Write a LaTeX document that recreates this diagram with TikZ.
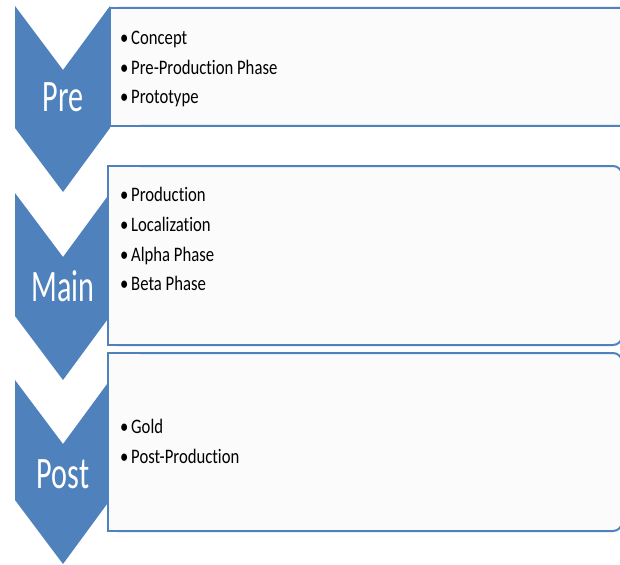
\documentclass[tikz,border=0pt]{standalone}
\usepackage{fontspec}
\setmainfont{Carlito}
\newfontfamily\chevfont[FakeStretch=0.67,Ligatures=NoCommon]{Carlito}
\newfontfamily\itemfont[FakeStretch=0.81,Ligatures=NoCommon]{Carlito}
\definecolor{accblue}{HTML}{4F81BD}
\definecolor{boxfill}{HTML}{FBFBFB}
\tikzset{
  chev/.style={fill=accblue, draw=none},
  phasebox/.style={draw=accblue, line width=2pt, fill=boxfill, rounded corners=9pt},
  boxedge/.style={draw=accblue, line width=2pt, line join=miter},
  chevlabel/.style={anchor=base, inner sep=0pt, text=white, font=\chevfont\fontsize{45}{45}\selectfont},
  itemline/.style={anchor=base west, inner sep=0pt, text=black, font=\itemfont\fontsize{20.6}{20.6}\selectfont}
}
\newcommand{\bul}{\makebox[11pt][l]{•}}
\begin{document}
\begin{tikzpicture}[x=1pt, y=-1pt]
\useasboundingbox (0,0) rectangle (620,564);
\clip (0,0) rectangle (620,564);
\fill[white] (0,0) rectangle (620,564);
% chevrons
\fill[chev] (15,6) -- (63,70) -- (110,6) -- (110,128) -- (63,192) -- (15,128) -- cycle;
\fill[chev] (15,193) -- (63,257) -- (110,193) -- (110,316) -- (63,380) -- (15,316) -- cycle;
\fill[chev] (15,380) -- (63,444) -- (110,380) -- (110,500) -- (63,564) -- (15,500) -- cycle;
% boxes (rounded on the right, square on the left)
\draw[phasebox] (110,8) rectangle (640,126);
\fill[boxfill] (110,8) rectangle (140,126);
\draw[boxedge] (140,8) -- (110,8) -- (110,126) -- (140,126);
\draw[phasebox] (108,166) rectangle (622,345);
\fill[boxfill] (108,166) rectangle (140,345);
\draw[boxedge] (140,166) -- (108,166) -- (108,345) -- (140,345);
\draw[phasebox] (108,353) rectangle (622,531);
\fill[boxfill] (108,353) rectangle (140,531);
\draw[boxedge] (140,353) -- (108,353) -- (108,531) -- (140,531);
% chevron labels
\node[chevlabel] (pre) at (63,111.7) {Pre};
\node[chevlabel] (main) at (63,301.5) {Main};
\node[chevlabel] (post) at (63,488.7) {Post};
% items
\node[itemline] (i1) at (120,44.5) {\bul Concept};
\node[itemline] (i2) at (120,74.5) {\bul Pre-Production Phase};
\node[itemline] (i3) at (120,104) {\bul Prototype};
\node[itemline] (i4) at (120,201.5) {\bul Production};
\node[itemline] (i5) at (120,231.5) {\bul Localization};
\node[itemline] (i6) at (120,261) {\bul Alpha Phase};
\node[itemline] (i7) at (120,290.5) {\bul Beta Phase};
\node[itemline] (i8) at (120,433.5) {\bul Gold};
\node[itemline] (i9) at (120,463.5) {\bul Post-Production};
\end{tikzpicture}
\end{document}
